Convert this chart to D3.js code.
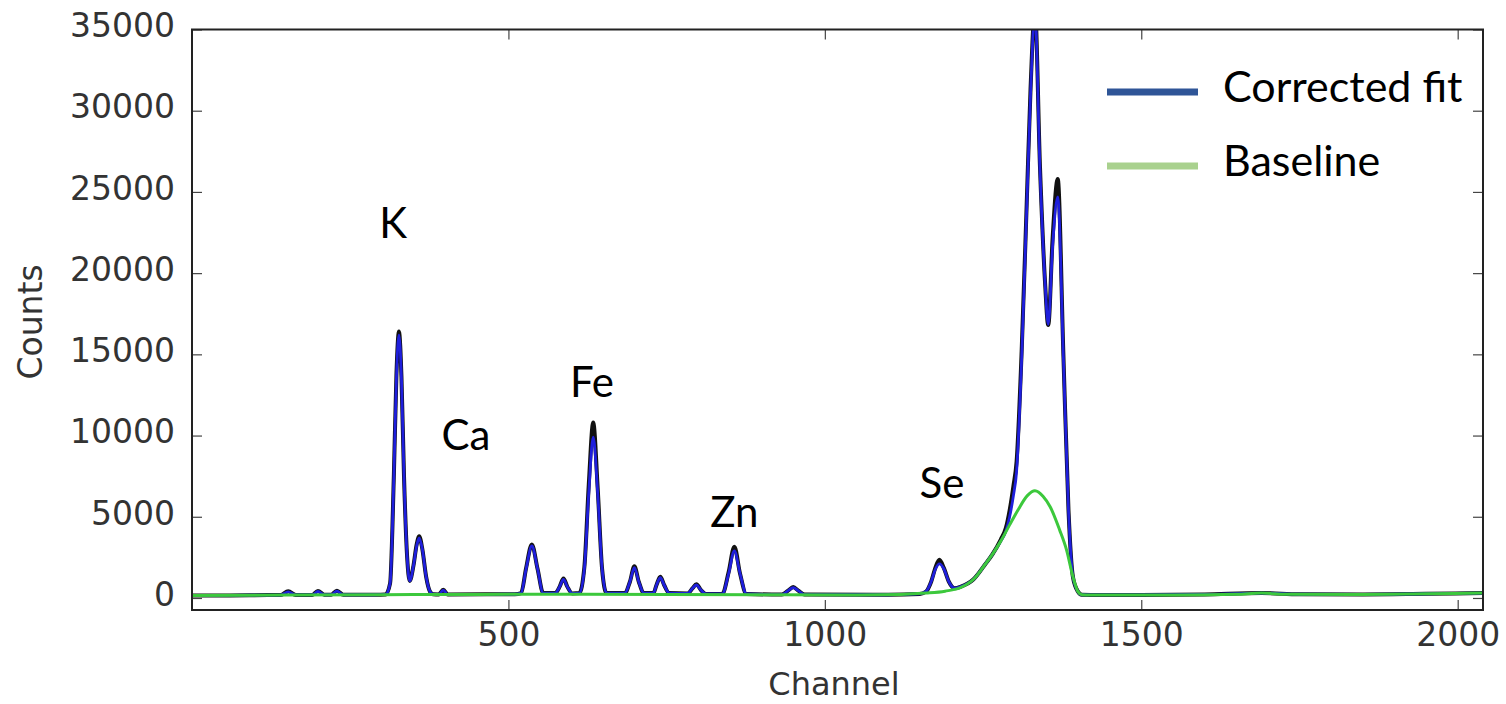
<!DOCTYPE html>
<html>
<head>
<meta charset="utf-8">
<script src="https://cdn.jsdelivr.net/npm/d3@7/dist/d3.min.js"></script>
<style>
  html, body { margin: 0; padding: 0; background: #fff; }
  svg { display: block; }
</style>
</head>
<body>
<svg id="chart" width="1506" height="704"></svg>
<script>
// ---------- data ----------
const xTicks = [500, 1000, 1500, 2000];
const yTicks = [0, 5000, 10000, 15000, 20000, 25000, 30000, 35000];

// Baseline (green) : [channel, counts]
const baseline = [
  [0,150],[150,180],[300,200],[450,220],[600,230],[750,220],[900,200],[1050,190],
  [1120,220],[1160,300],[1190,420],[1215,650],[1235,1150],[1252,2000],[1265,2700],
  [1278,3500],[1292,4500],[1305,5400],[1320,6300],[1332,6600],[1345,6250],[1356,5620],
  [1371,4190],[1382,2950],[1392,1310],[1400,390],[1406,200],[1420,180],[1550,190],
  [1650,230],[1690,300],[1730,230],[1850,220],[1950,260],[2040,300]
];

// Corrected fit (blue) : [channel, counts]
const fit = [
  [0,150],[60,160],[120,180],[140,180],[152,380],[164,190],[190,190],[199,400],[209,200],
  [220,200],[229,420],[239,200],[290,200],[306,220],[313,900],[319,7500],[323,13500],
  [327,16200],[331,13500],[335,7500],[340,2500],[344,1050],[350,2000],[355,3200],[359,3700],
  [364,3000],[370,1300],[376,400],[381,230],[390,220],[397,480],[404,220],[510,230],
  [520,300],[528,1800],[537,3200],[546,1800],[555,300],[574,300],[581,700],[587,1150],
  [593,700],[601,280],[612,300],[620,1800],[627,6500],[634,9900],[641,6500],[648,1800],
  [655,300],[684,300],[692,1000],[699,1870],[706,1000],[714,300],[729,300],[734,800],
  [740,1250],[746,800],[754,300],[783,280],[791,600],[797,800],[804,500],[812,250],
  [838,250],[848,1500],[857,2900],[866,1500],[876,250],[932,210],[942,450],[950,640],
  [958,450],[968,210],[1100,200],[1150,250],[1160,400],[1168,1000],[1175,1800],[1181,2100],
  [1188,1800],[1196,1000],[1205,600],[1215,700],[1235,1150],[1252,2000],[1265,2700],
  [1278,3500],[1286,4100],[1292,5000],[1298,6300],[1303,7800],[1311,14750],[1319,24000],
  [1325,31000],[1332,36000],[1340,26300],[1348,19400],[1353,16850],[1360,21700],[1368,24700],
  [1377,14750],[1385,5400],[1392,1300],[1400,390],[1406,200],[1420,190],[1500,190],[1600,220],
  [1690,300],[1750,230],[1850,220],[1950,260],[2040,300]
];

// Measured spectrum (black, mostly hidden under the fit) : [channel, counts]
const measured = [
  [0,150],[60,160],[120,180],[140,180],[152,420],[164,190],[190,190],[199,430],[209,200],
  [220,200],[229,450],[239,200],[290,200],[306,220],[313,900],[319,7600],[323,13700],
  [327,16400],[331,13600],[335,7500],[340,2500],[344,1050],[350,2000],[355,3300],[359,3800],
  [364,3000],[370,1300],[376,400],[381,230],[390,220],[397,500],[404,220],[510,230],
  [520,300],[528,1850],[537,3300],[546,1800],[555,300],[574,300],[581,700],[587,1200],
  [593,700],[601,280],[612,300],[620,1900],[627,7000],[634,10800],[641,6800],[648,1800],
  [655,300],[684,300],[692,1000],[699,1950],[706,1000],[714,300],[729,300],[734,800],
  [740,1300],[746,800],[754,300],[783,280],[791,600],[797,850],[804,500],[812,250],
  [838,250],[848,1600],[857,3150],[866,1500],[876,250],[932,210],[942,450],[950,680],
  [958,450],[968,210],[1100,200],[1150,250],[1160,400],[1168,1000],[1175,1900],[1181,2350],
  [1188,1850],[1196,1000],[1205,600],[1215,700],[1235,1150],[1252,2000],[1265,2700],
  [1278,3600],[1286,4300],[1292,5400],[1298,6900],[1303,8400],[1311,15200],[1319,24300],
  [1325,31300],[1332,36200],[1340,26500],[1348,19400],[1353,16800],[1360,22200],[1368,25800],
  [1377,14900],[1385,5400],[1392,1300],[1400,390],[1406,200],[1420,190],[1500,190],[1600,220],
  [1690,300],[1750,230],[1850,220],[1950,260],[2040,300]
];

// Element annotations
const peakLabels = ["K", "Ca", "Fe", "Zn", "Se"];
const peakLabelChannels = [318, 433, 632, 857, 1185];
const peakLabelCounts = [22150, 9100, 12400, 4400, 6150];

const legendNames = ["Corrected fit", "Baseline"];

// ---------- layout ----------
const svg = d3.select("#chart");
const L = 192, R = 1483, T = 29.5, B = 610;

const x = d3.scaleLinear().domain([0, 2040]).range([L, R]);
const y = d3.scaleLinear().domain([-740, 35000]).range([B, T]);

svg.append("defs").append("clipPath").attr("id", "plotclip")
  .append("rect").attr("x", L).attr("y", T).attr("width", R - L).attr("height", B - T);

const line = d3.line()
  .x(d => x(d[0])).y(d => y(d[1]))
  .curve(d3.curveMonotoneX);

const plot = svg.append("g").attr("clip-path", "url(#plotclip)");

plot.append("path").datum(measured)
  .attr("d", line).attr("fill", "none")
  .attr("stroke", "#111").attr("stroke-width", 4).attr("stroke-linejoin", "round");

plot.append("path").datum(fit)
  .attr("d", line).attr("fill", "none")
  .attr("stroke", "#1f1fdc").attr("stroke-width", 2.8).attr("stroke-linejoin", "round");

plot.append("path").datum(baseline)
  .attr("d", line).attr("fill", "none")
  .attr("stroke", "#3cc83c").attr("stroke-width", 3).attr("stroke-linejoin", "round");

// ---------- axes ----------
const axisFont = "\"DejaVu Sans\", sans-serif";
function styleAxis(g) {
  g.select(".domain").remove();
  g.selectAll(".tick line").attr("stroke", "#444").attr("stroke-width", 1.2);
  g.selectAll(".tick text").attr("fill", "#333")
    .style("font-family", axisFont).style("font-size", "33px");
}
const fmt = d3.format("d");

svg.append("g").attr("transform", `translate(0,${B})`)
  .call(d3.axisBottom(x).tickValues(xTicks).tickFormat(fmt).tickSizeInner(-10).tickSizeOuter(0).tickPadding(13))
  .call(styleAxis);

svg.append("g").attr("transform", `translate(0,${T})`)
  .call(d3.axisTop(x).tickValues(xTicks).tickSizeInner(-10).tickSizeOuter(0).tickFormat(""))
  .call(styleAxis);

const yAxisG = svg.append("g").attr("transform", `translate(${L},0)`)
  .call(d3.axisLeft(y).tickValues(yTicks).tickFormat(fmt).tickSizeInner(-10).tickSizeOuter(0).tickPadding(17))
  .call(styleAxis);
yAxisG.selectAll(".tick text").attr("dy", "0.22em");

svg.append("g").attr("transform", `translate(${R},0)`)
  .call(d3.axisRight(y).tickValues(yTicks).tickSizeInner(-10).tickSizeOuter(0).tickFormat(""))
  .call(styleAxis);

// frame
svg.append("rect").attr("x", L).attr("y", T).attr("width", R - L).attr("height", B - T)
  .attr("fill", "none").attr("stroke", "#222").attr("stroke-width", 2);

// axis titles
svg.append("text").attr("x", 834).attr("y", 695).attr("text-anchor", "middle")
  .attr("fill", "#333").style("font-family", axisFont).style("font-size", "32px")
  .text("Channel");
svg.append("text").attr("transform", "translate(42,322) rotate(-90)").attr("text-anchor", "middle")
  .attr("fill", "#333").style("font-family", axisFont).style("font-size", "33px")
  .text("Counts");

// ---------- annotations ----------
const annFont = "Lato, \"Open Sans\", sans-serif";
svg.append("g").selectAll("text").data(peakLabels).join("text")
  .attr("x", (d, i) => x(peakLabelChannels[i]))
  .attr("y", (d, i) => y(peakLabelCounts[i]))
  .attr("text-anchor", "middle")
  .attr("fill", "#000")
  .style("font-family", annFont).style("font-size", "42px")
  .text(d => d);

// ---------- legend ----------
const legendColors = ["#2f5597", "#a9d18e"];
const legendY = [92, 166];
const lg = svg.append("g");
legendNames.forEach((name, i) => {
  lg.append("line").attr("x1", 1107).attr("x2", 1198)
    .attr("y1", legendY[i]).attr("y2", legendY[i])
    .attr("stroke", legendColors[i]).attr("stroke-width", 7);
  lg.append("text").attr("x", 1223).attr("y", legendY[i] + 10)
    .attr("fill", "#000").style("font-family", annFont).style("font-size", "43px")
    .text(name);
});
</script>
</body>
</html>
